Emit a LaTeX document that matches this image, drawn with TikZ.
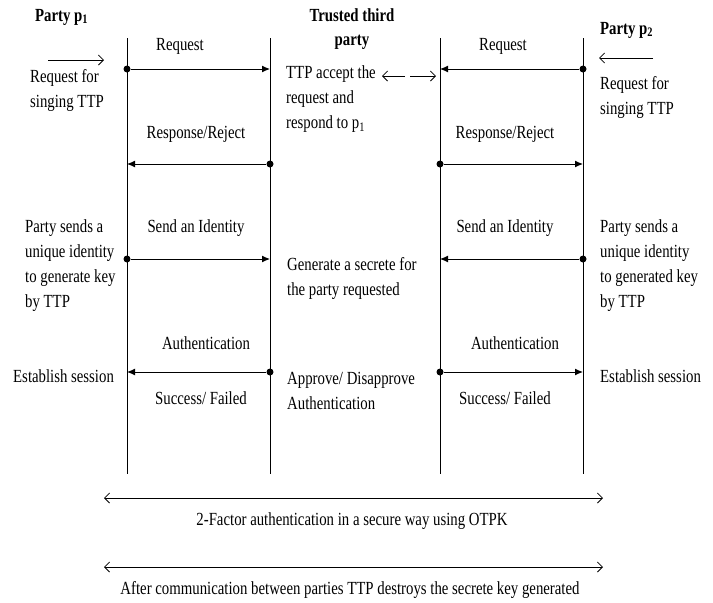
\documentclass[tikz,border=0pt]{standalone}
\usepackage{fontspec}
\setmainfont{Liberation Serif}[FakeStretch=0.8]
\usetikzlibrary{arrows.meta}
\begin{document}
\begin{tikzpicture}[x=1pt,y=-1pt,
 txt/.style={font=\fontsize{18.5}{25}\selectfont, inner sep=0pt, align=left},
 ctxt/.style={txt, align=center},
 ttl/.style={inner sep=0pt, align=center, font=\fontsize{18.5}{24}\selectfont\bfseries},
 life/.style={line width=0.8pt},
 dotn/.style={circle, fill, inner sep=0pt, minimum size=7pt},
 msg/.style={line width=1pt, -{Latex[length=8pt,width=7pt]}},
 hint/.style={line width=0.8pt, -{Straight Barb[length=5pt,width=10pt]}},
 spanarrow/.style={line width=0.8pt, {Straight Barb[length=5pt,width=10pt]}-{Straight Barb[length=5pt,width=10pt]}}]
\useasboundingbox (0,0) rectangle (713,603);

% lifelines
\coordinate (At) at (127,38); \coordinate (Ab) at (127,474);
\coordinate (Bt) at (270,38); \coordinate (Bb) at (270,474);
\coordinate (Ct) at (440,38); \coordinate (Cb) at (440,474);
\coordinate (Dt) at (583,38); \coordinate (Db) at (583,474);
\draw[life] (At) -- (Ab);
\draw[life] (Bt) -- (Bb);
\draw[life] (Ct) -- (Cb);
\draw[life] (Dt) -- (Db);

% titles
\node[ttl, anchor=west] (t1) at (35,17) {Party p\textsubscript{1}};
\node[ttl] (t2) at (352,29) {Trusted third\\party};
\node[ttl, anchor=west] (t3) at (600,30) {Party p\textsubscript{2}};

% row 1: Request
\node[ctxt] (r1l) at (180,46) {Request};
\node[ctxt] (r1r) at (503,46) {Request};
\node[dotn] (d1l) at (127,69) {};
\coordinate (e1l) at (270,69);
\draw[msg] (d1l) -- (e1l);
\node[dotn] (d1r) at (583,69) {};
\coordinate (e1r) at (440,69);
\draw[msg] (d1r) -- (e1r);

\coordinate (h1s) at (48,60); \coordinate (h1e) at (104,60);
\draw[hint] (h1s) -- (h1e);
\coordinate (h2s) at (653,58); \coordinate (h2e) at (599,58);
\draw[hint] (h2s) -- (h2e);
\node[txt, anchor=west] (rq1) at (30,90) {Request for\\singing TTP};
\node[txt, anchor=west] (rq2) at (600,97) {Request for\\singing TTP};

\node[txt, anchor=west] (tta) at (286,99) {TTP accept the\\request and\\respond to p\textsubscript{1}};
\coordinate (x1s) at (405,76); \coordinate (x1e) at (382,76);
\draw[hint] (x1s) -- (x1e);
\coordinate (x2s) at (410,76); \coordinate (x2e) at (436,76);
\draw[hint] (x2s) -- (x2e);

% row 2: Response/Reject
\node[ctxt] (r2l) at (196,134) {Response/Reject};
\node[ctxt] (r2r) at (505,134) {Response/Reject};
\node[dotn] (d2l) at (270,164) {};
\coordinate (e2l) at (127,164);
\draw[msg] (d2l) -- (e2l);
\node[dotn] (d2r) at (440,164) {};
\coordinate (e2r) at (583,164);
\draw[msg] (d2r) -- (e2r);

% row 3: Send an Identity
\node[ctxt] (r3l) at (196,228) {Send an Identity};
\node[ctxt] (r3r) at (505,228) {Send an Identity};
\node[dotn] (d3l) at (127,259) {};
\coordinate (e3l) at (270,259);
\draw[msg] (d3l) -- (e3l);
\node[dotn] (d3r) at (583,259) {};
\coordinate (e3r) at (440,259);
\draw[msg] (d3r) -- (e3r);
\node[txt, anchor=west] (ps1) at (25,266) {Party sends a\\unique identity\\to generate key\\by TTP};
\node[txt, anchor=west] (ps2) at (600,266) {Party sends a\\unique identity\\to generated key\\by TTP};
\node[txt, anchor=west] (gen) at (287,278) {Generate a secrete for\\the party requested};

% row 4: Authentication
\node[ctxt] (r4l) at (206,343) {Authentication};
\node[ctxt] (r4r) at (515,343) {Authentication};
\node[dotn] (d4l) at (270,372) {};
\coordinate (e4l) at (127,372);
\draw[msg] (d4l) -- (e4l);
\node[dotn] (d4r) at (440,372) {};
\coordinate (e4r) at (583,372);
\draw[msg] (d4r) -- (e4r);
\node[txt, anchor=west] (es1) at (13,376) {Establish session};
\node[txt, anchor=west] (es2) at (600,376) {Establish session};
\node[ctxt] (sf1) at (201,398) {Success/ Failed};
\node[ctxt] (sf2) at (505,398) {Success/ Failed};
\node[txt, anchor=west] (apr) at (287,391) {Approve/ Disapprove\\Authentication};

% bottom
\coordinate (b1s) at (104,498); \coordinate (b1e) at (603,498);
\draw[spanarrow] (b1s) -- (b1e);
\node[ctxt] (bt1) at (352,521) {2-Factor authentication in a secure way using OTPK};
\coordinate (b2s) at (104,567); \coordinate (b2e) at (603,567);
\draw[spanarrow] (b2s) -- (b2e);
\node[ctxt] (bt2) at (350,590) {After communication between parties TTP destroys the secrete key generated};
\end{tikzpicture}
\end{document}
